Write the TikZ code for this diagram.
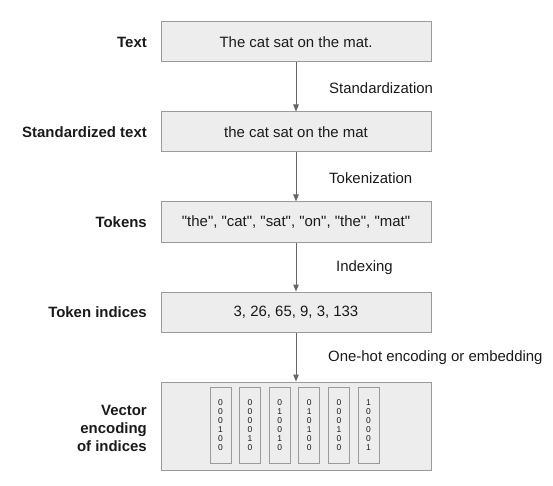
\documentclass[tikz,border=0pt]{standalone}
\usepackage{fontspec}
\setmainfont{Liberation Sans}
\usetikzlibrary{arrows.meta}
\definecolor{boxfill}{HTML}{EDEDED}
\definecolor{boxline}{HTML}{9A9A9A}
\definecolor{arrowcol}{HTML}{666666}
\definecolor{txt}{HTML}{1A1A1A}
\newcommand{\qq}[1]{\textquotedbl#1\textquotedbl}
\tikzset{
  stagebox/.style={draw=boxline, fill=boxfill, line width=1bp, minimum width=270bp, minimum height=40bp, inner sep=0pt, text=txt, font=\fontsize{15}{18}\selectfont},
  stagelabel/.style={anchor=east, inner sep=0pt, text=txt, font=\bfseries\fontsize{15}{18}\selectfont, align=right},
  steplabel/.style={anchor=west, inner sep=0pt, text=txt, font=\fontsize{15}{18}\selectfont},
  vecbox/.style={draw=boxline, fill=boxfill, line width=1bp, minimum width=21bp, minimum height=76bp, inner sep=0pt, text=txt, align=center, font=\fontsize{8.5}{9}\selectfont},
  flow/.style={draw=arrowcol, line width=1bp, -{Triangle[width=5.5bp,length=7bp]}}
}
\begin{document}
\begin{tikzpicture}[x=1bp,y=-1bp]
\useasboundingbox (0,0) rectangle (553,486);
% stage boxes
\node[stagebox] (b1) at (296,42) {The cat sat on the mat.};
\node[stagebox] (b2) at (296,132) {the cat sat on the mat};
\node[stagebox] (b3) at (296,222) {\qq{the}, \qq{cat}, \qq{sat}, \qq{on}, \qq{the}, \qq{mat}};
\node[stagebox] (b4) at (296,312) {3, 26, 65, 9, 3, 133};
\node[stagebox, minimum height=88bp] (b5) at (296,426) {};
% vectors
\node[vecbox] (v1) at (220.5,425.3) {0\\0\\0\\1\\0\\0};
\node[vecbox] (v2) at (250.1,425.3) {0\\0\\0\\0\\1\\0};
\node[vecbox] (v3) at (279.7,425.3) {0\\1\\0\\0\\1\\0};
\node[vecbox] (v4) at (309.3,425.3) {0\\1\\0\\1\\0\\0};
\node[vecbox] (v5) at (338.9,425.3) {0\\0\\0\\1\\0\\0};
\node[vecbox] (v6) at (368.5,425.3) {1\\0\\0\\0\\0\\1};
% left labels
\node[stagelabel] (l1) at (147,42) {Text};
\node[stagelabel] (l2) at (147,132) {Standardized text};
\node[stagelabel] (l3) at (147,222) {Tokens};
\node[stagelabel] (l4) at (147,312) {Token indices};
\node[stagelabel] (l5) at (147,428) {Vector\\encoding\\of indices};
% arrows
\draw[flow] (b1) -- (b2);
\draw[flow] (b2) -- (b3);
\draw[flow] (b3) -- (b4);
\draw[flow] (b4) -- (b5);
% step labels
\node[steplabel] (s1) at (329,88) {Standardization};
\node[steplabel] (s2) at (329,178) {Tokenization};
\node[steplabel] (s3) at (336,268) {Indexing};
\node[steplabel] (s4) at (328,358) {One-hot encoding or embedding};
\end{tikzpicture}
\end{document}
